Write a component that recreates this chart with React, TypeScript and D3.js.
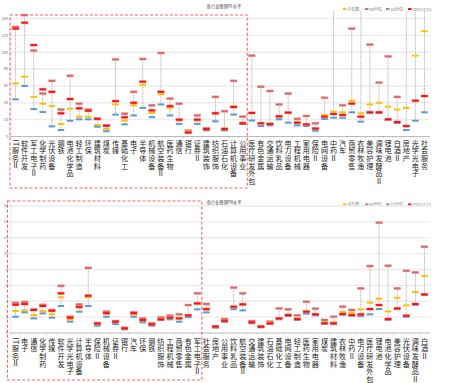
import React from "react";
import * as d3 from "d3";

const W = 455;
const H = 383;

// ---------- PE data ----------
const peCats = ["IT服务Ⅱ","软件开发","军工电子Ⅱ","化学制药","光伏设备","钢铁","电池化学品","轻工制造","环保","建筑材料","煤炭","传媒","基础化工","电子","半导体","机械设备","航空装备Ⅱ","医药生物","通信","银行","证券Ⅱ","建筑装饰","纺织服饰","石油石化","计算机设备","公用事业","医疗研发外包","有色金属","交通运输","饮料乳品","电力设备","工程机械","家用电器","保险Ⅱ","电网设备","中药Ⅱ","汽车","商贸零售","农林牧渔","美容护理","调味发酵品Ⅱ","锂电池","白酒Ⅱ","房地产","光学光电子","社会服务"];
const peP90 = [130,144,102,51,66,32,72,39,32,21,13,91.5,27,53,92,37,99,45,39,7,25,9.6,47,30,66,23.6,96,59,54,38,51,21,24.3,15.6,46,170,37,128,170,109,64,95,47,170,170,170];
const peMedian = [63,71,47,39,36,14.8,33,23.5,23.5,13.6,8.9,38,18.8,37,61,28,50,34,19,6,19,8,27,9.6,36,16.4,28,16,15.5,23,27.6,16.8,14,8.5,25.5,29.4,28.7,42.5,27.5,38,40,35.4,32,34,96,125];
const peP10 = [44,60,32.6,29,12,7.7,18.7,20.4,20.4,11.6,6.2,26,14.4,25,34,23,38,25,15,4,15,7.2,18,7.2,26,14.8,19,12.4,13.2,20.4,16.4,13.2,12.4,6.8,20.8,22.3,22.3,28.7,17.6,28,28,20,16,7.7,18.7,28.7];
const peCurrent = [128,135,108.5,56,53,27.5,44.5,33.4,30.6,21,12.8,42,22.8,40,65,31,53,36,20,4.8,20,8.8,27.6,8.8,35,15.6,28,15.6,14.8,24,28.4,16.4,14.4,9.5,23.5,26.7,25.5,39,23.5,28.7,28.7,20.4,17.2,12.4,42.5,48];
const peTicks = [0,20,40,60,80,100,120,140];

// ---------- PB data ----------
const pbCats = ["IT服务Ⅱ","电子","通信","化学制药","传媒","软件开发","光学光电子","计算机设备","半导体","保险Ⅱ","机械设备","证券Ⅱ","银行","汽车","环保","钢铁","纺织服饰","工程机械","商贸零售","有色金属","军工电子Ⅱ","社会服务","房地产","公用事业","饮料乳品","航空装备Ⅱ","交通运输","建筑装饰","石油石化","基础化工","电网设备","轻工制造","医药生物","家用电器","煤炭","建筑材料","农林牧渔","中药Ⅱ","电力设备","医疗研发外包","锂电池","电池化学品","美容护理","光伏设备","调味发酵品Ⅱ","白酒Ⅱ"];
const pbP90 = [3.8,3.9,2.95,3.55,2.9,5.95,2.05,3.6,8.2,1.25,2.7,1.5,0.65,2.6,1.84,1.22,1.97,2.18,2.35,3.52,5.0,3.65,0.85,1.76,5.72,5.0,1.5,0.85,1.43,3.1,2.98,2.22,3.94,3.06,1.64,2.05,3.31,2.9,5.62,8.43,13.9,8.47,5.62,7.84,7.63,10.86];
const pbMedian = [2.77,2.85,2.26,2.77,2.35,4.5,1.72,3.19,4.5,1.1,2.4,1.3,0.55,2.35,1.47,1.05,1.8,2.0,1.9,2.25,3.65,3.05,0.75,1.6,3.3,3.65,1.38,0.8,1.3,1.88,2.3,1.8,2.77,2.4,1.34,1.34,2.64,2.56,2.98,3.82,4.32,2.73,4.44,3.48,5.16,7.17];
const pbP10 = [2.05,2.6,1.84,2.47,1.93,3.4,1.43,2.68,3.4,0.92,2.05,1.13,0.46,2.05,1.34,0.92,1.64,1.72,1.43,2.0,2.98,2.6,0.67,1.38,3.0,2.85,1.22,0.71,1.13,1.72,2.14,1.64,2.43,2.22,1.18,1.1,2.3,2.18,2.14,2.35,3.02,1.64,3.02,2.05,3.56,4.8];
const pbCurrent = [3.56,3.65,2.9,3.4,2.8,5.0,1.93,3.3,4.7,1.2,2.5,1.43,0.59,2.5,1.64,1.1,1.72,1.93,1.84,2.22,3.73,3.0,0.8,1.55,3.31,3.6,1.34,0.8,1.22,1.84,2.26,1.76,2.68,2.35,1.22,1.22,2.39,2.26,2.35,3.02,3.52,1.76,3.1,2.18,3.65,4.86];
const pbTicks = [0,2,4,6,8,10,12,14,16];

const legendLabels = ["中位数", "90分位", "10分位", "2025/7/21"];

const C_MED = "#FFC000";
const C_P90 = "#D9696B";
const C_P10 = "#5B9BD5";
const C_CUR = "#FF1010";

const FONT = "'Noto Sans CJK SC', 'Noto Sans', sans-serif";

type PanelProps = {
  id: string;
  title: string;
  cats: string[];
  p90: number[];
  med: number[];
  p10: number[];
  cur: number[];
  ticks: number[];
  yBottom: number;
  yTop: number;
  clipTop: number;
  hiCount: number;
  rectLeft: number;
  rectTop: number;
  rectBottom: number;
  labelTop: number;
  legendY: number;
  titleY: number;
};

function Panel(p: PanelProps) {
  const x = d3.scaleBand<string>().domain(p.cats).range([11, 429]).paddingInner(0).paddingOuter(0);
  const y = d3.scaleLinear().domain([p.ticks[0], p.ticks[p.ticks.length - 1]]).range([p.yBottom, p.yTop]);
  const bw = x.bandwidth();
  const cx = (c: string) => (x(c) as number) + bw / 2;
  const rectRight = (x(p.cats[p.hiCount]) as number);
  const mw = 6.5;
  const legendX = [343, 365, 386, 408];
  const legendColors = [C_MED, C_P90, C_P10, C_CUR];
  return (
    <g>
      <defs>
        <clipPath id={p.id + "clip"}>
          <rect x={0} y={p.clipTop} width={W} height={p.yBottom - p.clipTop + 2} />
        </clipPath>
      </defs>
      <text x={224} y={p.titleY} fontSize={4.2} fill="#333" textAnchor="middle" fontFamily={FONT}>{p.title}</text>
      {/* legend */}
      {legendLabels.map((l, i) => (
        <g key={l}>
          <rect x={legendX[i]} y={p.legendY - 1} width={3.5} height={2} fill={legendColors[i]} />
          <text x={legendX[i] + 4.5} y={p.legendY + 1.5} fontSize={4} fill="#777" fontFamily={FONT}>{l}</text>
        </g>
      ))}
      {/* grid */}
      {p.ticks.map((t) => (
        <g key={t}>
          {t > 0 && <line x1={11} x2={430} y1={y(t)} y2={y(t)} stroke="#ececec" strokeWidth={1.4} />}
          <text x={8} y={y(t) + 1.4} fontSize={3.8} fill="#666" textAnchor="end" fontFamily={FONT}>{t}</text>
          <line x1={9} x2={11} y1={y(t)} y2={y(t)} stroke="#aaa" strokeWidth={0.5} />
        </g>
      ))}
      <line x1={11} x2={11} y1={p.yTop - 2} y2={p.yBottom} stroke="#ccc" strokeWidth={0.5} />
      <line x1={11} x2={430} y1={p.yBottom} y2={p.yBottom} stroke="#aaa" strokeWidth={0.8} />
      {p.cats.map((c) => (
        <line key={c} x1={x(c) as number} x2={x(c) as number} y1={p.yBottom} y2={p.yBottom + 1.5} stroke="#aaa" strokeWidth={0.5} />
      ))}
      {/* marks */}
      <g clipPath={`url(#${p.id}clip)`}>
        {p.cats.map((c, i) => (
          <line key={c} x1={cx(c)} x2={cx(c)} y1={y(p.p10[i])} y2={y(p.p90[i])} stroke="#9a9a9a" strokeWidth={0.8} strokeDasharray="1,0.8" />
        ))}
        {p.cats.map((c, i) => (
          <g key={c}>
            <rect x={cx(c) - mw / 2 - 0.5} y={y(p.p90[i]) - 1.5} width={mw + 1} height={3} fill="#F2C4C4" />
            <rect x={cx(c) - mw / 2} y={y(p.p90[i]) - 1} width={mw} height={2} fill={C_P90} />
            <rect x={cx(c) - mw / 2} y={y(p.med[i]) - 1} width={mw} height={2} fill={C_MED} />
            <rect x={cx(c) - mw / 2} y={y(p.p10[i]) - 1} width={mw} height={2} fill={C_P10} />
            <rect x={cx(c) - mw / 2 - 0.5} y={y(p.cur[i]) - 1.5} width={mw + 1} height={3} fill="#FF8080" opacity={0.6} />
            <rect x={cx(c) - mw / 2} y={y(p.cur[i]) - 1} width={mw} height={2} fill={C_CUR} />
          </g>
        ))}
      </g>
      {/* category labels (vertical text) */}
      {p.cats.map((c) => (
        <text key={c} x={cx(c)} y={p.labelTop} fontSize={7.1} fill="#222" fontFamily={FONT}
          style={{ writingMode: "vertical-rl", letterSpacing: "0.5px" } as React.CSSProperties}>{c}</text>
      ))}
      {/* highlight rectangle */}
      <rect x={p.rectLeft} y={p.rectTop} width={rectRight - p.rectLeft} height={p.rectBottom - p.rectTop} fill="none" stroke="#FF6060" strokeWidth={1.1} strokeDasharray="3,2" />
    </g>
  );
}

export default function App() {
  return (
    <svg width={W} height={H} viewBox={`0 0 ${W} ${H}`} style={{ position: "fixed", left: 0, top: 0, background: "#fff" }}>
      <rect x={0} y={0} width={W} height={H} fill="#fff" />
      <Panel id="pe" title="各行业预测PE水平" cats={peCats} p90={peP90} med={peMedian} p10={peP10} cur={peCurrent}
        ticks={peTicks} yBottom={136.5} yTop={18.5} clipTop={10.5} hiCount={26} rectLeft={10} rectTop={15} rectBottom={188}
        labelTop={139.5} legendY={9} titleY={7.5} />
      <Panel id="pb" title="各行业预测PB水平" cats={pbCats} p90={pbP90} med={pbMedian} p10={pbP10} cur={pbCurrent}
        ticks={pbTicks} yBottom={333} yTop={206} clipTop={196} hiCount={21} rectLeft={7.5} rectTop={201} rectBottom={380}
        labelTop={337.5} legendY={204.5} titleY={203.5} />
    </svg>
  );
}
